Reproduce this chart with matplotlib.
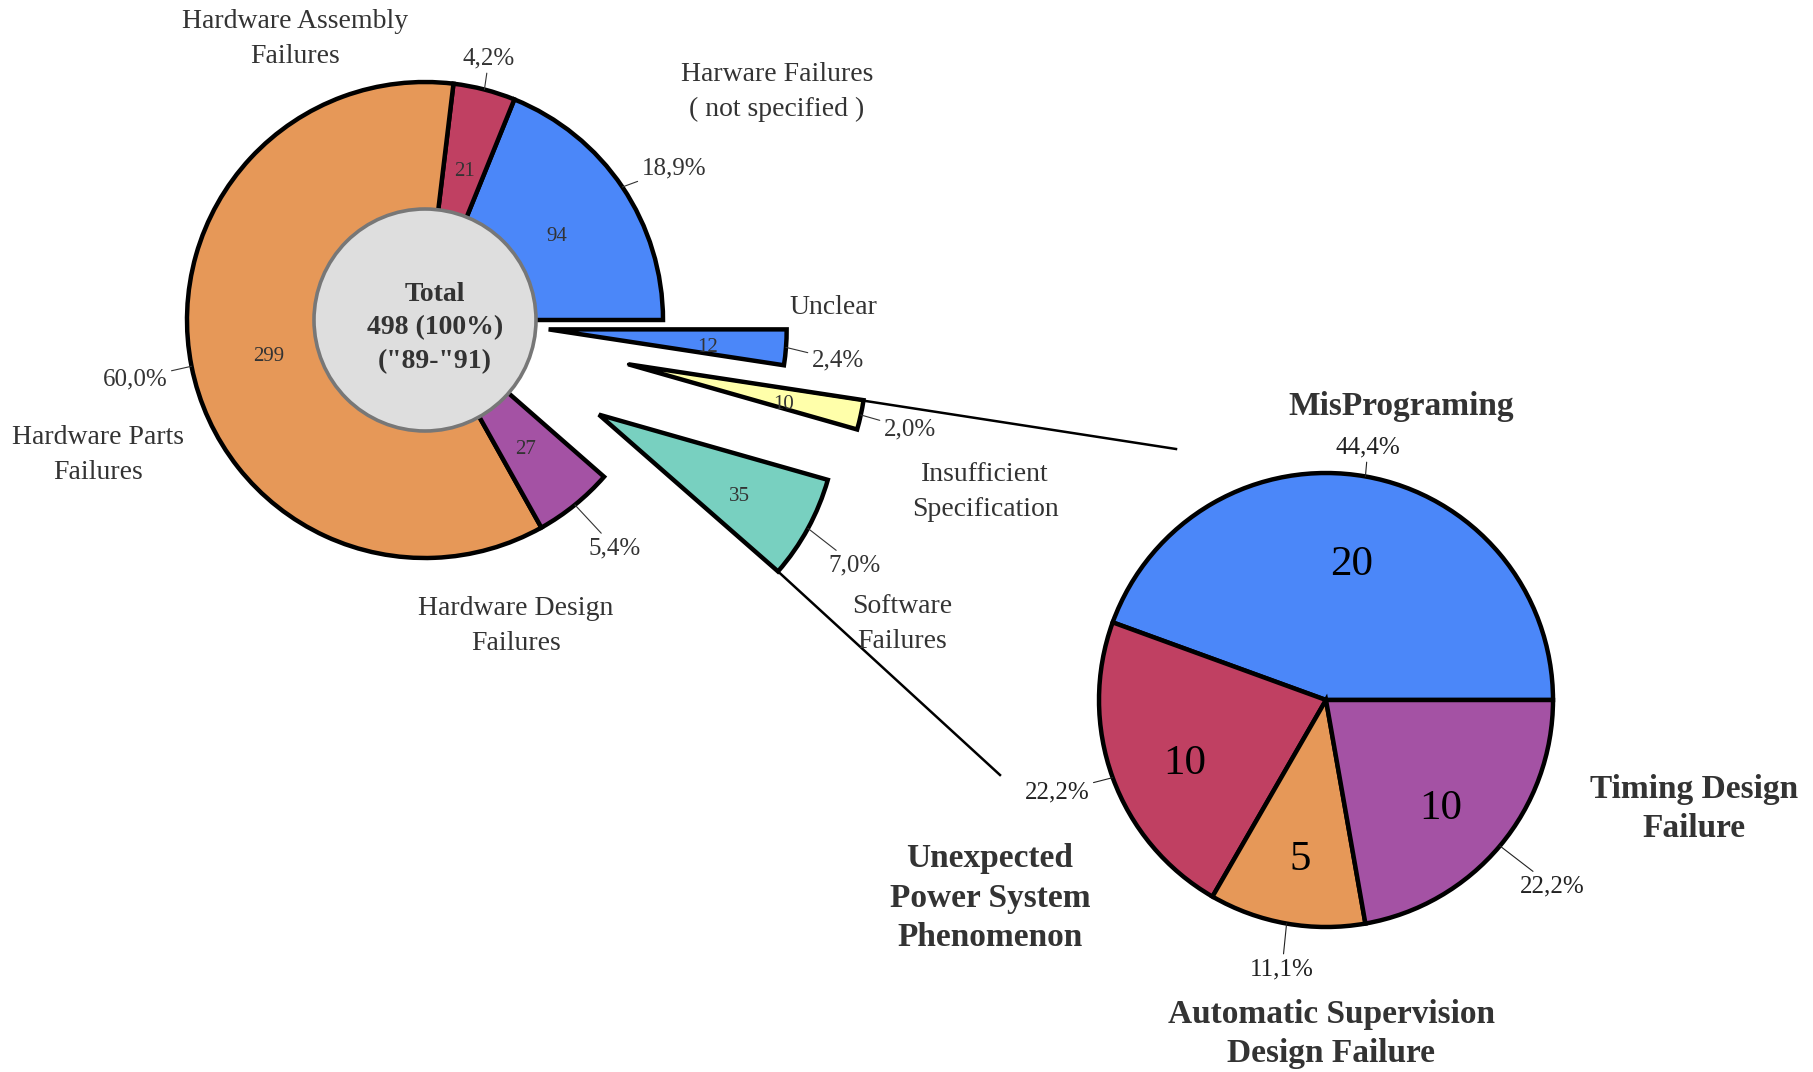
import numpy as np
import matplotlib
matplotlib.use("Agg")
import matplotlib.pyplot as plt

plt.rcParams['font.family'] = ['Liberation Serif', 'DejaVu Serif']

# ─── Datos ───────────────────────────────────────────────────────────────────
main_labels = ["Harware Failures\n( not specified )", "Hardware Assembly\nFailures",
               "Hardware Parts\nFailures", "Hardware Design\nFailures",
               "Software\nFailures", "Insufficient\nSpecification", "Unclear"]
main_counts = [94, 21, 299, 27, 35, 10, 12]
main_colors = ["#4b87f9", "#c04062", "#e69858", "#a452a4", "#78d0c0", "#ffffaa", "#4b87f9"]
total_text = "Total\n498 (100%)\n(\"89-\"91)"

sw_labels = ["MisPrograming", "Unexpected\nPower System\nPhenomenon",
             "Automatic Supervision\nDesign Failure", "Timing Design\nFailure"]
sw_counts = [20, 10, 5, 10]
sw_colors = ["#4b87f9", "#c04062", "#e69858", "#a452a4"]

# ─── Layout (pixels, y hacia abajo) ──────────────────────────────────────────
W, H = 1813, 1072
main_center = (425, 320)
main_r = 238
hole_r = 111
main_explode = [0, 0, 0, 0, 198, 208, 124]
main_pct_pos = [(674, 168), (489, 58), (135, 379), (615, 548), (855, 565), (910, 429), (838, 360)]
main_lbl_pos = [(777, 92), (295, 39), (98, 455), (516, 626), (902, 624), (985, 492), (833, 307)]

sw_center = (1326, 700)
sw_r = 227
sw_pct_pos = [(1368, 447), (1057, 792), (1282, 969), (1552, 886)]
sw_lbl_pos = [(1401, 407), (990, 898), (1331, 1034), (1694, 809)]
conn_ends = [(1176, 449), (1000, 775)]

GRAY = "#333333"
EDGE = dict(edgecolor='black', linewidth=3.2, joinstyle='miter')


def pct_str(v, tot):
    return f"{100 * v / tot:.1f}%".replace('.', ',')


def edge_point(w, ang):
    a = np.radians(ang)
    return (w.center[0] + w.r * np.cos(a), w.center[1] + w.r * np.sin(a))


def drop_texts(texts, size_pt):
    # bajar un poco los números, como en el original
    for t in texts:
        x, y = t.get_position()
        t.set_position((x, y + 0.28 * size_pt * 100 / 72))


fig = plt.figure(figsize=(W / 100, H / 100), dpi=100, facecolor='white')
ax = fig.add_axes([0, 0, 1, 1])

# ─── Pie principal ───────────────────────────────────────────────────────────
tot = sum(main_counts)
wedges, _, vals = ax.pie(main_counts, colors=main_colors, explode=main_explode,
                         center=main_center, radius=main_r, startangle=0,
                         counterclock=False, pctdistance=0.67,
                         autopct=lambda p: f"{p * tot / 100:.0f}",
                         wedgeprops=EDGE,
                         textprops=dict(fontsize=15, color=GRAY))
drop_texts(vals, 15)

ax.add_patch(plt.Circle(main_center, hole_r, facecolor='#dedede',
                        edgecolor='#777777', linewidth=2.6, zorder=3))
ax.text(main_center[0] + 10, main_center[1] + 8, total_text, ha='center', va='center',
        fontsize=20, fontweight='bold', color=GRAY, linespacing=1.45, zorder=4)

for w, cnt, pos, lbl, lpos in zip(wedges, main_counts, main_pct_pos, main_labels, main_lbl_pos):
    mid = (w.theta1 + w.theta2) / 2
    ax.annotate(pct_str(cnt, tot), xy=edge_point(w, mid), xytext=pos,
                ha='center', va='center', fontsize=18, color=GRAY,
                arrowprops=dict(arrowstyle='-', lw=0.8, color=GRAY, shrinkA=1, shrinkB=0))
    ax.text(*lpos, lbl, ha='center', va='center', fontsize=20, color=GRAY, linespacing=1.5)

# Líneas de conexión
ins, sw = wedges[5], wedges[4]
ax.plot([ins.center[0], conn_ends[0][0]], [ins.center[1], conn_ends[0][1]],
        color='black', lw=1.8, zorder=1)
p0 = edge_point(sw, sw.theta2)
ax.plot([p0[0], conn_ends[1][0]], [p0[1], conn_ends[1][1]], color='black', lw=1.8, zorder=1)

# ─── Pie de software ─────────────────────────────────────────────────────────
stot = sum(sw_counts)
swedges, _, svals = ax.pie(sw_counts, colors=sw_colors, center=sw_center, radius=sw_r,
                           startangle=0, counterclock=False, pctdistance=0.66,
                           autopct=lambda p: f"{p * stot / 100:.0f}",
                           wedgeprops=EDGE,
                           textprops=dict(fontsize=31, color='black'))
drop_texts(svals, 31)

for w, cnt, pos, lbl, lpos in zip(swedges, sw_counts, sw_pct_pos, sw_labels, sw_lbl_pos):
    mid = (w.theta1 + w.theta2) / 2
    ax.annotate(pct_str(cnt, stot), xy=edge_point(w, mid), xytext=pos,
                ha='center', va='center', fontsize=18, color='#222222',
                arrowprops=dict(arrowstyle='-', lw=0.8, color='#222222', shrinkA=1, shrinkB=0))
    ax.text(*lpos, lbl, ha='center', va='center', fontsize=24, fontweight='bold',
            color=GRAY, linespacing=1.36)

ax.set_xlim(0, W)
ax.set_ylim(H, 0)
ax.set_aspect('equal')
ax.axis('off')

fig.savefig("out.png", dpi=100)
